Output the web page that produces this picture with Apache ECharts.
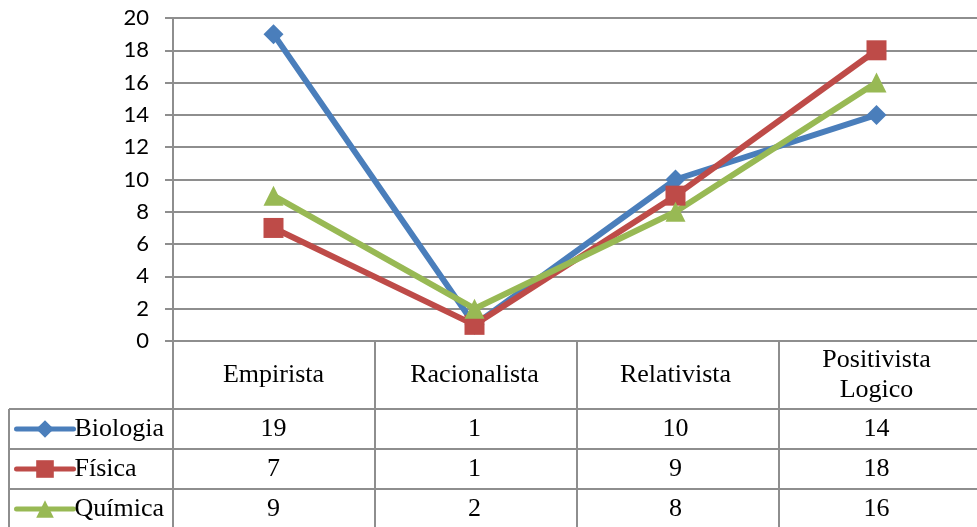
<!DOCTYPE html>
<html>
<head>
<meta charset="utf-8">
<script src="https://cdn.jsdelivr.net/npm/echarts@6/dist/echarts.min.js"></script>
<style>
html,body{margin:0;padding:0;background:#fff;}
#chart{width:977px;height:527px;}
</style>
</head>
<body>
<div id="chart"></div>
<script>
const categories = ['Empirista', 'Racionalista', 'Relativista', 'Positivista\nLogico'];
const seriesNames = ['Biologia', 'Física', 'Química'];
const biologia = [19, 1, 10, 14];
const fisica = [7, 1, 9, 18];
const quimica = [9, 2, 8, 16];
const yTicks = [0, 2, 4, 6, 8, 10, 12, 14, 16, 18, 20];

const colors = ['#4a7ebb', '#be4b48', '#98b954'];
const symbols = ['diamond', 'rect', 'triangle'];
const values = [biologia, fisica, quimica];

// layout
const GL = 173, GT = 18, GH = 323, COLW = 202, GW = COLW * categories.length;
const G0 = GT + GH;             // y of value 0
const HEAD_H = 68;              // header row height
const ROW_H = 40;
const TABLE_LEFT = 9;
const W = 977, H = 527;
const serif = 'Liberation Serif, Times New Roman, serif';
const gridColor = '#8e8e8e';

const rowTop = G0 + HEAD_H;     // first data row top

const xAxes = [{
  type: 'category', data: categories, gridIndex: 0, position: 'bottom',
  boundaryGap: true,
  axisLine: {show: false}, axisTick: {show: false},
  axisLabel: {margin: HEAD_H / 2, verticalAlign: 'middle', color: '#000',
    fontFamily: serif, fontSize: 26, lineHeight: 30, interval: 0}
}];
values.forEach((arr, k) => {
  xAxes.push({
    type: 'category', data: categories, gridIndex: 0, position: 'bottom',
    boundaryGap: true,
    axisLine: {show: false}, axisTick: {show: false}, splitLine: {show: false},
    axisLabel: {margin: HEAD_H + ROW_H * k + ROW_H / 2, verticalAlign: 'middle', color: '#000',
      fontFamily: serif, fontSize: 26, interval: 0,
      formatter: (v, i) => String(arr[i])}
  });
});

const series = values.map((arr, k) => ({
  name: seriesNames[k], type: 'line', xAxisIndex: 0, yAxisIndex: 0,
  data: arr, symbol: symbols[k], symbolSize: 20,
  lineStyle: {color: colors[k], width: 6},
  itemStyle: {color: colors[k]},
  animation: false
}));

const legends = seriesNames.map((n, k) => ({
  data: [n], orient: 'vertical', left: 14,
  top: rowTop + ROW_H * k + ROW_H / 2 - 13,
  itemWidth: 57, itemHeight: 22, padding: 0,
  lineStyle: {width: 5, cap: 'round', color: colors[k]},
  textStyle: {fontFamily: serif, fontSize: 26, color: '#000', lineHeight: 26, padding: [0, 0, 0, -4]},
  selectedMode: false
}));

const lineStyle = {stroke: gridColor, lineWidth: 2};
const graphics = [];
function hline(x1, x2, y) { graphics.push({type: 'line', shape: {x1, y1: y, x2, y2: y}, style: lineStyle, silent: true}); }
function vline(x, y1, y2) { graphics.push({type: 'line', shape: {x1: x, y1, x2: x, y2}, style: lineStyle, silent: true}); }
// y axis continues down through the table
vline(GL, G0, H);
for (let i = 1; i < categories.length; i++) vline(GL + COLW * i, G0, H);
vline(TABLE_LEFT, rowTop, H);
for (let k = 0; k < values.length; k++) hline(TABLE_LEFT, W, rowTop + ROW_H * k);

const chart = echarts.init(document.getElementById('chart'));
chart.setOption({
  animation: false,
  backgroundColor: '#fff',
  grid: {left: GL, top: GT, width: GW, height: GH, containLabel: false},
  xAxis: xAxes,
  yAxis: {
    type: 'value', min: yTicks[0], max: yTicks[yTicks.length - 1], interval: 2,
    axisLine: {show: true, lineStyle: {color: gridColor, width: 2}},
    axisTick: {show: true, length: 8, lineStyle: {color: gridColor, width: 2}},
    splitLine: {show: true, lineStyle: {color: gridColor, width: 2}},
    axisLabel: {color: '#000', fontFamily: 'Lato, sans-serif', fontSize: 22, margin: 24}
  },
  legend: legends,
  series: series,
  graphic: graphics
});
</script>
</body>
</html>
